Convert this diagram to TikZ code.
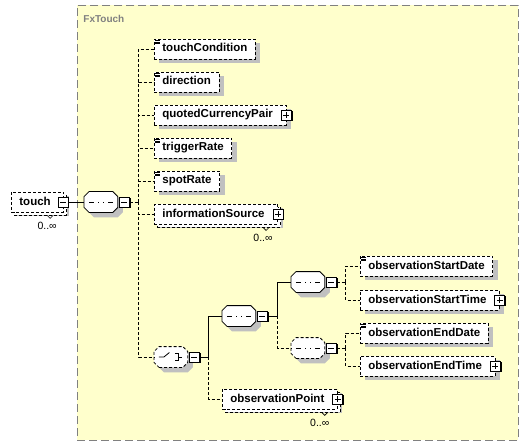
\documentclass[tikz,border=0pt]{standalone}
\usepackage{fontspec}
\setmainfont{Liberation Sans}
\usetikzlibrary{shadows}

\definecolor{bgyellow}{HTML}{FFFFCC}
\definecolor{framegrey}{HTML}{808080}
\definecolor{shadowgrey}{HTML}{C0C0C0}
\newcommand{\elemfont}{\fontsize{11.5}{13}\selectfont\bfseries}
\newcommand{\occfont}{\fontsize{10.5}{12}\selectfont}

% octagon box for sequence and choice compositors
\makeatletter
\pgfdeclareshape{compositor}{%
  \inheritsavedanchors[from=rectangle]%
  \inheritanchorborder[from=rectangle]%
  \inheritanchor[from=rectangle]{center}%
  \inheritanchor[from=rectangle]{north}%
  \inheritanchor[from=rectangle]{south}%
  \inheritanchor[from=rectangle]{east}%
  \inheritanchor[from=rectangle]{west}%
  \inheritanchor[from=rectangle]{north east}%
  \inheritanchor[from=rectangle]{north west}%
  \inheritanchor[from=rectangle]{south east}%
  \inheritanchor[from=rectangle]{south west}%
  \backgroundpath{%
    \southwest \edef\compxa{\the\pgf@x}\edef\compya{\the\pgf@y}%
    \northeast \edef\compxb{\the\pgf@x}\edef\compyb{\the\pgf@y}%
    \pgfpathmoveto{\pgfpoint{\compxa+5pt}{\compya}}%
    \pgfpathlineto{\pgfpoint{\compxb-5pt}{\compya}}%
    \pgfpathlineto{\pgfpoint{\compxb}{\compya+5pt}}%
    \pgfpathlineto{\pgfpoint{\compxb}{\compyb-5pt}}%
    \pgfpathlineto{\pgfpoint{\compxb-5pt}{\compyb}}%
    \pgfpathlineto{\pgfpoint{\compxa+5pt}{\compyb}}%
    \pgfpathlineto{\pgfpoint{\compxa}{\compyb-5pt}}%
    \pgfpathlineto{\pgfpoint{\compxa}{\compya+5pt}}%
    \pgfpathclose
  }%
}
\makeatother

\tikzset{
  elem/.style={draw, dash pattern=on 3pt off 2pt, fill=white, anchor=west,
    minimum height=20pt, inner xsep=8pt, inner ysep=0pt,
    text height=8.5pt, text depth=2.5pt, font=\elemfont,
    drop shadow={shadow xshift=5pt, shadow yshift=-4pt, fill=shadowgrey, opacity=1}},
  multi/.style={general shadow={shadow xshift=3pt, shadow yshift=-3pt,
    draw, dash pattern=on 3pt off 2pt, fill=white}},
  simple/.style={path picture={
    \foreach \k in {1.5,3,4.5}
      \draw[solid, line width=0.6pt] ([xshift=1pt, yshift=-\k pt]path picture bounding box.north west) -- ++(5pt,0);}},
  withicon/.style={execute at end node={\hspace*{5pt}}},
  minusicon/.style={draw, solid, fill=white, minimum size=10pt, inner sep=0pt,
    drop shadow={shadow xshift=1.3pt, shadow yshift=-1.3pt, fill=black, opacity=1},
    path picture={\draw[solid] ([xshift=2pt]path picture bounding box.west) -- ([xshift=-2pt]path picture bounding box.east);}},
  plusicon/.style={minusicon,
    path picture={\draw[solid] ([xshift=2pt]path picture bounding box.west) -- ([xshift=-2pt]path picture bounding box.east);
      \draw[solid] ([yshift=-2pt]path picture bounding box.north) -- ([yshift=2pt]path picture bounding box.south);}},
  comp/.style={shape=compositor, draw, solid, fill=white, inner sep=0pt,
    minimum width=33pt, minimum height=20pt, anchor=west,
    drop shadow={shadow xshift=5pt, shadow yshift=-5pt, fill=shadowgrey, opacity=1}},
  optional/.style={dash pattern=on 3pt off 2pt},
  seqicon/.style={path picture={
    \draw[solid] ([xshift=-12pt]path picture bounding box.center) -- ([xshift=12pt]path picture bounding box.center);
    \foreach \d in {-5,0,5}
      \fill ([xshift=\d pt]path picture bounding box.center) +(-1.7pt,-1.7pt) rectangle +(1.7pt,1.7pt);}},
  choiceicon/.style={path picture={
    \draw[solid] ([xshift=-12pt]path picture bounding box.center) -- ++(5pt,0pt) -- ++(5.5pt,4.5pt);
    \foreach \d in {3.2,0,-3.2}
      \fill ([xshift=3pt, yshift=\d pt]path picture bounding box.center) +(-1.3pt,-1.3pt) rectangle +(1.3pt,1.3pt);
    \draw[solid] ([xshift=4.5pt, yshift=3.8pt]path picture bounding box.center) -| ([xshift=7pt, yshift=-3.8pt]path picture bounding box.center) -- ++(-2.5pt,0pt);
    \draw[solid] ([xshift=7pt]path picture bounding box.center) -- ++(4pt,0pt);}},
  occ/.style={font=\occfont, inner sep=0pt, anchor=east},
  occtick/.style={solid, line width=0.6pt},
  link/.style={line width=0.8pt},
  optlink/.style={line width=0.8pt, dash pattern=on 3pt off 2pt}
}

\begin{document}
\begin{tikzpicture}[x=1pt, y=-1pt, line width=0.8pt]
\useasboundingbox (0,0) rectangle (529,446);

% complex type frame
\node[draw=framegrey, dash pattern=on 8pt off 4pt, fill=bgyellow, minimum width=441pt, minimum height=435pt,
  anchor=north west, inner sep=0pt] (fxtouch) at (77,5) {};
\node[anchor=west, font=\fontsize{10}{12}\selectfont\bfseries, text=framegrey, inner sep=0pt] (fxlabel) at (83,19) {FxTouch};

% root element
\node[elem, multi, withicon] (touch) at (11,202) {touch};
\node[minusicon] (touchm) at ([xshift=-1pt]touch.east) {};
\node[occ] (toucho) at ([xshift=-7pt, yshift=-13pt]touch.south east) {0..∞};
\draw[occtick] ([xshift=-17pt, yshift=-3pt]touch.south east) -- ++(3,3) -- ++(3,-3);

% outer sequence
\node[comp, seqicon] (seq1) at (84,202) {};
\node[minusicon, anchor=west] (seq1m) at ([xshift=1pt]seq1.east) {};

% children of the outer sequence
\node[elem, simple] (tc) at (154,49) {touchCondition};
\node[elem, simple] (dir) at (154,82) {direction};
\node[elem, withicon] (qcp) at (154,115) {quotedCurrencyPair};
\node[plusicon] (qcpp) at (qcp.east) {};
\node[elem, simple] (tr) at (154,148) {triggerRate};
\node[elem, simple] (sr) at (154,181) {spotRate};
\node[elem, multi, withicon] (is) at (154,214) {informationSource};
\node[plusicon] (isp) at (is.east) {};
\node[occ] (iso) at ([xshift=-5pt, yshift=-13pt]is.south east) {0..∞};
\draw[occtick] ([xshift=-15pt, yshift=-3pt]is.south east) -- ++(3,3) -- ++(3,-3);

% choice
\node[comp, optional, choiceicon] (ch) at (154,357) {};
\node[minusicon, anchor=west] (chm) at ([xshift=1pt]ch.east) {};

% sequences inside the choice
\node[comp, seqicon] (seq2) at (222,316) {};
\node[minusicon, anchor=west] (seq2m) at ([xshift=1pt]seq2.east) {};
\node[comp, seqicon] (seq3) at (291,282) {};
\node[minusicon, anchor=west] (seq3m) at ([xshift=1pt]seq3.east) {};
\node[comp, optional, seqicon] (seq4) at (291,348) {};
\node[minusicon, anchor=west] (seq4m) at ([xshift=1pt]seq4.east) {};

% observation elements
\node[elem, simple] (osd) at (360,266) {observationStartDate};
\node[elem, withicon] (ost) at (360,300) {observationStartTime};
\node[plusicon] (ostp) at (ost.east) {};
\node[elem, simple] (oed) at (360,333) {observationEndDate};
\node[elem, withicon] (oet) at (360,366) {observationEndTime};
\node[plusicon] (oetp) at (oet.east) {};
\node[elem, multi, withicon] (op) at (222,399) {observationPoint};
\node[plusicon] (opp) at (op.east) {};
\node[occ] (opo) at ([xshift=-8pt, yshift=-13pt]op.south east) {0..∞};
\draw[occtick] ([xshift=-16pt, yshift=-3pt]op.south east) -- ++(3,3) -- ++(3,-3);

% connectors
\draw[link] (touchm.east) -- (seq1.west);
\draw[optlink] (seq1m.east) -- ++(9,0) coordinate (j1);
\foreach \c in {tc,dir,qcp,tr,sr,is,ch}
  \draw[optlink] (j1) |- (\c.west);

\draw[link] (chm.east) -- ++(9,0) coordinate (j2);
\draw[link] (j2) |- (seq2.west);
\draw[optlink] (j2) |- (op.west);

\draw[link] (seq2m.east) -- ++(10,0) coordinate (j3);
\draw[link] (j3) |- (seq3.west);
\draw[optlink] (j3) |- (seq4.west);

\draw[optlink] (seq3m.east) -- ++(9,0) coordinate (j4);
\draw[optlink] (j4) |- (osd.west);
\draw[optlink] (j4) |- (ost.west);

\draw[optlink] (seq4m.east) -- ++(9,0) coordinate (j5);
\draw[optlink] (j5) |- (oed.west);
\draw[optlink] (j5) |- (oet.west);
\end{tikzpicture}
\end{document}
